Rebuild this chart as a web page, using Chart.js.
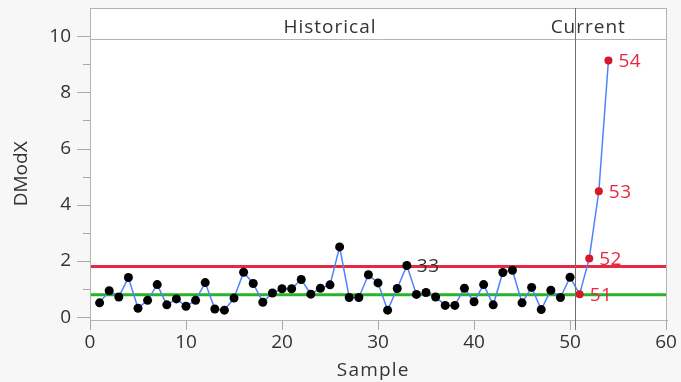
<!DOCTYPE html>
<html>
<head>
<meta charset="utf-8">
<script src="https://cdn.jsdelivr.net/npm/chart.js@4.4.1/dist/chart.umd.min.js"></script>
<style>
  html, body { margin: 0; padding: 0; background: #f7f7f7; }
  #wrap { width: 681px; height: 382px; }
</style>
</head>
<body>
<div id="wrap"><canvas id="chart" width="681" height="382"></canvas></div>
<script>
// valeurs
const historical = [
  0.51, 0.94, 0.72, 1.41, 0.32, 0.60, 1.16, 0.44, 0.65, 0.39,
  0.60, 1.23, 0.29, 0.25, 0.68, 1.60, 1.20, 0.53, 0.86, 1.01,
  1.01, 1.34, 0.82, 1.03, 1.15, 2.50, 0.70, 0.70, 1.51, 1.22,
  0.25, 1.02, 1.84, 0.81, 0.88, 0.72, 0.42, 0.42, 1.03, 0.55,
  1.16, 0.44, 1.59, 1.67, 0.51, 1.06, 0.27, 0.96, 0.70, 1.42
];
const current = [0.82, 2.09, 4.48, 9.13];
const upperLimit = 1.8;
const centerLine = 0.8;
const xTicks = [0, 10, 20, 30, 40, 50, 60];
const yTicks = [0, 2, 4, 6, 8, 10];
const yMinorTicks = [1, 3, 5, 7, 9];
const labeledSamples = [33, 51, 52, 53, 54];
const phaseSplit = 50.5;
const phaseNames = ['Historical', 'Current'];
const phaseLabelAt = [25, 51.9];

const X_MIN = 0, X_MAX = 60.1;
const FONT = '"Open Sans", "Noto Sans", sans-serif';
const TEXT = '#333';
const AXIS = '#a9a9a9';
const RED = 'rgb(232, 40, 64)';
const PT_RED = 'rgb(214, 24, 40)';

const samples = historical.concat(current).map((v, i) => ({ x: i + 1, y: v }));
const nHist = historical.length;

function spacedText(ctx, txt, x, y, spacing) {
  ctx.letterSpacing = spacing + 'px';
  ctx.fillText(txt, x, y);
  ctx.letterSpacing = '0px';
}

const framePlugin = {
  id: 'frame',
  beforeDraw(chart) {
    const { ctx, chartArea: a } = chart;
    ctx.save();
    ctx.fillStyle = '#fff';
    ctx.fillRect(a.left, a.top, a.right - a.left, a.bottom - a.top);
    ctx.restore();
  },
  afterDraw(chart) {
    const { ctx, chartArea: a, scales } = chart;
    const xs = scales.x, ys = scales.y;
    ctx.save();
    ctx.strokeStyle = '#b4b4b4';
    ctx.lineWidth = 1;
    ctx.strokeRect(a.left + 0.5, a.top + 0.5, a.right - a.left - 1, a.bottom - a.top);
    // bande d'en-tete
    const hy = a.top + 31;
    ctx.beginPath();
    ctx.moveTo(a.left, hy + 0.5);
    ctx.lineTo(a.right, hy + 0.5);
    ctx.stroke();
    // separation historique / courant
    const sx = Math.round(xs.getPixelForValue(phaseSplit)) + 0.5;
    ctx.strokeStyle = '#707070';
    ctx.beginPath();
    ctx.moveTo(sx, a.top);
    ctx.lineTo(sx, a.bottom + 10);
    ctx.stroke();
    ctx.fillStyle = TEXT;
    ctx.font = '19px ' + FONT;
    ctx.textAlign = 'center';
    ctx.textBaseline = 'middle';
    phaseNames.forEach((name, i) => {
      spacedText(ctx, name, xs.getPixelForValue(phaseLabelAt[i]), a.top + 20, 1);
    });
    // graduations de l'axe Y
    ctx.strokeStyle = AXIS;
    const axX = ys.right;
    yTicks.forEach(v => {
      const y = Math.round(ys.getPixelForValue(v)) + 0.5;
      ctx.beginPath(); ctx.moveTo(axX - 13, y); ctx.lineTo(axX, y); ctx.stroke();
    });
    yMinorTicks.forEach(v => {
      const y = Math.round(ys.getPixelForValue(v)) + 0.5;
      ctx.beginPath(); ctx.moveTo(axX - 7, y); ctx.lineTo(axX, y); ctx.stroke();
    });
    // titres des axes
    ctx.fillStyle = TEXT;
    spacedText(ctx, 'Sample', xs.getPixelForValue(29.5), 371, 1.2);
    ctx.translate(22, ys.getPixelForValue(5.1));
    ctx.rotate(-Math.PI / 2);
    ctx.fillText('DModX', 0, 0);
    ctx.restore();
  }
};

const labelPlugin = {
  id: 'pointLabels',
  afterDatasetsDraw(chart) {
    const { ctx } = chart;
    const meta = chart.getDatasetMeta(0);
    ctx.save();
    ctx.font = '19px ' + FONT;
    ctx.textAlign = 'left';
    ctx.textBaseline = 'middle';
    labeledSamples.forEach(n => {
      const el = meta.data[n - 1];
      ctx.fillStyle = n > nHist ? RED : TEXT;
      spacedText(ctx, String(n), el.x + 10, el.y + 1, 0.5);
    });
    ctx.restore();
  }
};

new Chart(document.getElementById('chart'), {
  type: 'line',
  data: {
    datasets: [
      {
        data: samples,
        borderColor: 'rgb(80, 130, 255)',
        borderWidth: 1.5,
        pointRadius: ctx => ctx.dataIndex >= nHist ? 4 : 4.5,
        pointBackgroundColor: ctx => ctx.dataIndex >= nHist ? PT_RED : '#000',
        pointBorderWidth: 0,
        tension: 0,
        clip: false,
        order: 0
      },
      {
        data: [{ x: X_MIN, y: upperLimit }, { x: X_MAX, y: upperLimit }],
        borderColor: RED,
        borderWidth: 3,
        pointRadius: 0,
        order: 1
      },
      {
        data: [{ x: X_MIN, y: centerLine }, { x: X_MAX, y: centerLine }],
        borderColor: 'rgb(40, 180, 40)',
        borderWidth: 3,
        pointRadius: 0,
        order: 2
      }
    ]
  },
  options: {
    responsive: false,
    animation: false,
    devicePixelRatio: 1,
    layout: { padding: { top: 8, right: 14, left: 0, bottom: 0 } },
    plugins: { legend: { display: false }, title: { display: false }, tooltip: { enabled: false } },
    scales: {
      x: {
        type: 'linear',
        min: X_MIN,
        max: X_MAX,
        afterBuildTicks: s => { s.ticks = xTicks.map(v => ({ value: v })); },
        afterFit: s => { s.height = 62; s.paddingLeft = 0; s.paddingRight = 0; },
        grid: { drawOnChartArea: false, drawTicks: true, tickLength: 10, color: AXIS },
        border: { display: true, color: AXIS },
        ticks: { color: TEXT, font: { size: 19, family: FONT }, padding: 1, maxRotation: 0 }
      },
      y: {
        min: -0.1,
        max: 11,
        afterBuildTicks: s => { s.ticks = yTicks.map(v => ({ value: v })); },
        afterFit: s => { s.width = 90; s.paddingTop = 0; s.paddingBottom = 0; },
        grid: { display: false, drawTicks: false },
        border: { display: true, color: AXIS },
        ticks: { color: TEXT, font: { size: 19, family: FONT }, padding: 19 }
      }
    }
  },
  plugins: [framePlugin, labelPlugin]
});
</script>
</body>
</html>
